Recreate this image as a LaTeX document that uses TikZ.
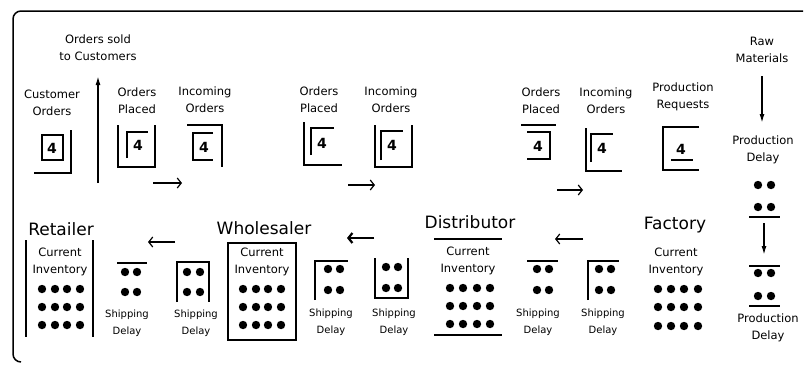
\documentclass[tikz,border=0pt]{standalone}
\usepackage{fontspec}
\setmainfont{DejaVu Sans}
\usetikzlibrary{arrows.meta}

\begin{document}
\begin{tikzpicture}[x=1pt,y=-1pt,line width=1.5pt,
    lbl/.style={align=center,inner sep=0pt,font=\fontsize{11.5}{17}\selectfont},
    ship/.style={align=center,inner sep=0pt,font=\fontsize{10}{16.5}\selectfont},
    stage/.style={inner sep=0pt,font=\fontsize{17}{17}\selectfont},
    num/.style={inner sep=0pt,font=\fontsize{14}{14}\bfseries\selectfont},
    flow/.style={-{Straight Barb[length=4pt,width=10pt]},line width=1.2pt},
    feed/.style={-{Latex[length=9pt,width=5pt]},line width=1.5pt}]
  \useasboundingbox (0,0) rectangle (806,365);
  \draw[rounded corners=8pt] (803,11) -- (13,11) -- (13,362) -- (21,362);

  % stage names
  \node[stage] (retailer) at (61,229) {Retailer};
  \node[stage] (wholesaler) at (264,228) {Wholesaler};
  \node[stage] (distributor) at (470,222) {Distributor};
  \node[stage] (factory) at (675,225) {Factory};

  % orders, upper row
  \node[lbl] (sold) at (98,48) {Orders sold\\to Customers};
  \node[lbl] (custorders) at (52,103) {Customer\\Orders};
  \node[lbl] (rplaced) at (137,101) {Orders\\Placed};
  \node[lbl] (rincoming) at (205,100) {Incoming\\Orders};
  \node[lbl] (wplaced) at (319,100) {Orders\\Placed};
  \node[lbl] (wincoming) at (391,100) {Incoming\\Orders};
  \node[lbl] (dplaced) at (541,101) {Orders\\Placed};
  \node[lbl] (dincoming) at (606,101) {Incoming\\Orders};
  \node[lbl] (requests) at (683,97) {Production\\Requests};
  \node[lbl] (raw) at (762,50) {Raw\\Materials};
  \node[lbl] (proddelay1) at (763,150) {Production\\Delay};
  \node[lbl] (proddelay2) at (768,328) {Production\\Delay};

  \node[num] (co4) at (52,148) {4};
  \draw (42,135) rectangle (63,160); \draw (71,130) |- (34,173);
  \node[num] (rp4) at (138,145) {4};
  \draw (118,125) |- (155,167) -- (155,125); \draw (127,158) |- (148,132);
  \node[num] (ri4) at (204,147) {4};
  \draw (187,125) -| (222,167); \draw (213,133) -| (193,160) -- (213,160);
  \node[num] (wp4) at (322,143) {4};
  \draw (304,122) |- (342,165); \draw (311,155) |- (334,128);
  \node[num] (wi4) at (392,145) {4};
  \draw (375,125) |- (412,167) -- (412,125); \draw (381,160) |- (403,131);
  \node[num] (dp4) at (538,146) {4};
  \draw (521,125) -- (556,125); \draw (527,132) -| (550,159) -- (527,159);
  \node[num] (di4) at (602,148) {4};
  \draw (586,128) |- (622,171); \draw (591,162) |- (613,134);
  \node[num] (fr4) at (681,149) {4};
  \draw (699,127) -| (663,170) -- (699,170); \draw (671,160) -- (693,160);

  % order flow arrows
  \coordinate (os0) at (98,183); \coordinate (os1) at (98,76);
  \draw[feed] (os0) -- (os1);
  \coordinate (ro0) at (153,183); \coordinate (ro1) at (182,183);
  \draw[flow] (ro0) -- (ro1);
  \coordinate (wo0) at (348,185); \coordinate (wo1) at (375,185);
  \draw[flow] (wo0) -- (wo1);
  \coordinate (do0) at (557,190); \coordinate (do1) at (583,190);
  \draw[flow] (do0) -- (do1);
  \coordinate (rm0) at (762,76); \coordinate (rm1) at (762,123);
  \draw[feed] (rm0) -- (rm1);

  % inventories
  \node[lbl] (rinv) at (60,262) {Current\\Inventory};
  \draw (26,240) -- (26,337); \draw (93,240) -- (93,337);
  \foreach \px in {42,55,67,80} \foreach \py in {289,307,325} \fill (\px,\py) circle (4.2pt);
  \node[lbl] (winv) at (262,262) {Current\\Inventory};
  \draw (228,243) rectangle (296,340);
  \foreach \px in {243,256,268,281} \foreach \py in {289,307,325} \fill (\px,\py) circle (4.2pt);
  \node[lbl] (dinv) at (468,261) {Current\\Inventory};
  \draw (434,239) -- (502,239); \draw (434,335) -- (502,335);
  \foreach \px in {450,463,477,490} \foreach \py in {288,306,324} \fill (\px,\py) circle (4.2pt);
  \node[lbl] (finv) at (676,262) {Current\\Inventory};
  \foreach \px in {658,671,684,698} \foreach \py in {289,307,326} \fill (\px,\py) circle (4.2pt);

  % shipping delays
  \node[ship] (rship1) at (127,323) {Shipping\\Delay};
  \draw (117,263) -- (147,263);
  \foreach \px in {125,137} \foreach \py in {272,292} \fill (\px,\py) circle (4.2pt);
  \node[ship] (rship2) at (196,323) {Shipping\\Delay};
  \draw (177,302) |- (209,262) -- (209,302);
  \foreach \px in {187,200} \foreach \py in {272,292} \fill (\px,\py) circle (4.2pt);
  \node[ship] (wship1) at (331,322) {Shipping\\Delay};
  \draw (315,300) |- (348,261);
  \foreach \px in {328,340} \foreach \py in {269,290} \fill (\px,\py) circle (4.2pt);
  \node[ship] (wship2) at (394,322) {Shipping\\Delay};
  \draw (375,258) |- (408,298) -- (408,258);
  \foreach \px in {386,398} \foreach \py in {267,288} \fill (\px,\py) circle (4.2pt);
  \node[ship] (dship1) at (538,322) {Shipping\\Delay};
  \draw (527,261) -- (558,261);
  \foreach \px in {537,549} \foreach \py in {269,290} \fill (\px,\py) circle (4.2pt);
  \node[ship] (dship2) at (603,322) {Shipping\\Delay};
  \draw (588,300) |- (619,261);
  \foreach \px in {599,611} \foreach \py in {269,290} \fill (\px,\py) circle (4.2pt);

  % production delay
  \foreach \px in {758,771} \foreach \py in {185,207,273,296} \fill (\px,\py) circle (4.2pt);
  \draw (749,217) -- (780,217); \draw (749,266) -- (780,266); \draw (749,306) -- (780,306);
  \coordinate (pd0) at (764,223); \coordinate (pd1) at (764,255);
  \draw[feed] (pd0) -- (pd1);

  % shipment arrows
  \coordinate (rs0) at (175,242); \coordinate (rs1) at (148,242);
  \draw[flow] (rs0) -- (rs1);
  \coordinate (ws0) at (374,238); \coordinate (ws1) at (347,238);
  \draw[flow,line width=2.2pt] (ws0) -- (ws1);
  \coordinate (ds0) at (583,239); \coordinate (ds1) at (555,239);
  \draw[flow] (ds0) -- (ds1);
\end{tikzpicture}
\end{document}
